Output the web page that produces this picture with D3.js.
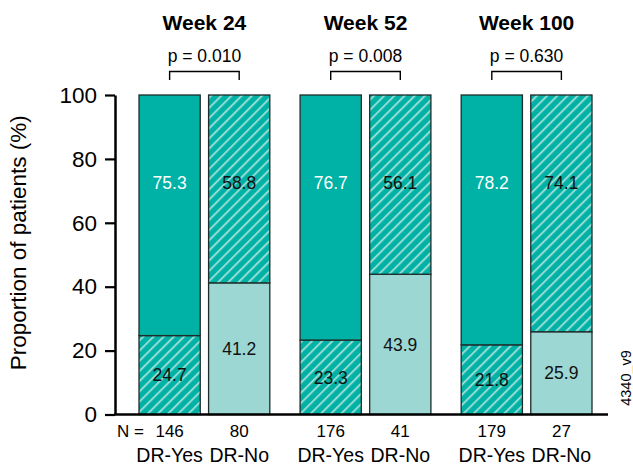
<!DOCTYPE html>
<html>
<head>
<meta charset="utf-8">
<script src="https://cdn.jsdelivr.net/npm/d3@7"></script>
<style>
  html, body { margin: 0; padding: 0; background: #fff; }
  svg { display: block; font-family: "Liberation Sans", Arial, Helvetica, sans-serif; }
</style>
</head>
<body>
<svg id="chart" width="633" height="465"></svg>
<script>
// Visit time points and DR response groups
const weeks = ["Week 24", "Week 52", "Week 100"];
const groups = ["DR-Yes", "DR-No"];

// Percent of patients per stacked segment, per group, across the weeks
const lowerDRYes = [24.7, 23.3, 21.8];
const upperDRYes = [75.3, 76.7, 78.2];
const lowerDRNo = [41.2, 43.9, 25.9];
const upperDRNo = [58.8, 56.1, 74.1];

// Patient counts per bar
const nDRYes = [146, 176, 179];
const nDRNo = [80, 41, 27];

// Between-group p-values per week
const pValues = ["0.010", "0.008", "0.630"];

const yTicks = [0, 20, 40, 60, 80, 100];

const teal = "#00b2a5";
const lightTeal = "#9cd7d4";
const stripe = "#93dbd3";
const edge = "#1e2b2a";

const svg = d3.select("#chart");

const defs = svg.append("defs");
const pat = defs.append("pattern")
  .attr("id", "hatch")
  .attr("patternUnits", "userSpaceOnUse")
  .attr("width", 7.2).attr("height", 10)
  .attr("patternTransform", "rotate(45)");
pat.append("rect").attr("width", 7.2).attr("height", 10).attr("fill", teal);
pat.append("rect").attr("x", 0).attr("y", 0).attr("width", 2).attr("height", 10).attr("fill", stripe);

const y = d3.scaleLinear().domain([0, 100]).range([414.5, 95]);
const x0 = d3.scaleBand().domain(weeks).range([139, 592]).paddingInner(0.188).paddingOuter(0);
const x1 = d3.scaleBand().domain(groups).range([0, x0.bandwidth()]).paddingInner(0.12).paddingOuter(0);

// Build segment rows from the named arrays
const segs = [];
weeks.forEach((w, i) => {
  segs.push({ week: w, group: "DR-Yes", lo: 0, hi: lowerDRYes[i], v: lowerDRYes[i], fill: "url(#hatch)", txt: "#111", pos: "mid" });
  segs.push({ week: w, group: "DR-Yes", lo: lowerDRYes[i], hi: lowerDRYes[i] + upperDRYes[i], v: upperDRYes[i], fill: teal, txt: "#fff", pos: "top" });
  segs.push({ week: w, group: "DR-No", lo: 0, hi: lowerDRNo[i], v: lowerDRNo[i], fill: lightTeal, txt: "#111", pos: "mid" });
  segs.push({ week: w, group: "DR-No", lo: lowerDRNo[i], hi: lowerDRNo[i] + upperDRNo[i], v: upperDRNo[i], fill: "url(#hatch)", txt: "#111", pos: "top" });
});

const bx = d => x0(d.week) + x1(d.group);

svg.append("g").selectAll("rect").data(segs).join("rect")
  .attr("x", bx)
  .attr("width", x1.bandwidth())
  .attr("y", d => y(d.hi))
  .attr("height", d => y(d.lo) - y(d.hi))
  .attr("fill", d => d.fill)
  .attr("stroke", edge)
  .attr("stroke-width", 1.3);

svg.append("g").selectAll("text").data(segs).join("text")
  .attr("x", d => bx(d) + x1.bandwidth() / 2)
  .attr("y", d => d.pos === "top" ? y(72.5) : y((d.lo + d.hi) / 2))
  .attr("dy", "0.36em")
  .attr("text-anchor", "middle")
  .attr("font-size", 17.5)
  .attr("fill", d => d.txt)
  .text(d => d.v.toFixed(1));

// Y axis
const yAxis = d3.axisLeft(y).tickValues(yTicks).tickSize(10).tickPadding(8).tickSizeOuter(0);
const ga = svg.append("g").attr("transform", "translate(115,0)").call(yAxis);
ga.select(".domain").attr("stroke", "#000").attr("stroke-width", 2.5);
ga.selectAll(".tick line").attr("stroke", "#000").attr("stroke-width", 2.2);
ga.selectAll(".tick text").attr("font-size", 22.5).attr("fill", "#000")
  .attr("font-family", "'Liberation Sans', Arial, sans-serif");

// Baseline
svg.append("line")
  .attr("x1", 114).attr("x2", 608)
  .attr("y1", y(0)).attr("y2", y(0))
  .attr("stroke", "#000").attr("stroke-width", 2.5);

// Y axis title
svg.append("text")
  .attr("transform", `translate(26,${(y(0) + y(100)) / 2 - 12}) rotate(-90)`)
  .attr("text-anchor", "middle")
  .attr("font-size", 22.5)
  .text("Proportion of patients (%)");

// Week titles, p-values and brackets
weeks.forEach((w, i) => {
  const cA = x0(w) + x1("DR-Yes") + x1.bandwidth() / 2;
  const cB = x0(w) + x1("DR-No") + x1.bandwidth() / 2;
  const mid = (cA + cB) / 2;
  svg.append("text").attr("x", mid).attr("y", 30)
    .attr("text-anchor", "middle").attr("font-size", 21).attr("font-weight", "bold")
    .text(w);
  svg.append("text").attr("x", mid).attr("y", 62)
    .attr("text-anchor", "middle").attr("font-size", 17.5)
    .text("p = " + pValues[i]);
  svg.append("path")
    .attr("d", `M${cA},80V71.5H${cB}V80`)
    .attr("fill", "none").attr("stroke", "#000").attr("stroke-width", 1.4);
});

// N counts and group labels below bars
svg.append("text").attr("x", 117).attr("y", 437).attr("font-size", 17).text("N =");
weeks.forEach((w, i) => {
  [["DR-Yes", nDRYes[i]], ["DR-No", nDRNo[i]]].forEach(([g, n]) => {
    const c = x0(w) + x1(g) + x1.bandwidth() / 2;
    svg.append("text").attr("x", c).attr("y", 437)
      .attr("text-anchor", "middle").attr("font-size", 17).text(n);
    svg.append("text").attr("x", c).attr("y", 462)
      .attr("text-anchor", "middle").attr("font-size", 19.5).text(g);
  });
});

// Figure code
svg.append("text")
  .attr("transform", "translate(631,378) rotate(-90)")
  .attr("text-anchor", "middle")
  .attr("font-size", 14.5)
  .text("4340_v9");
</script>
</body>
</html>
